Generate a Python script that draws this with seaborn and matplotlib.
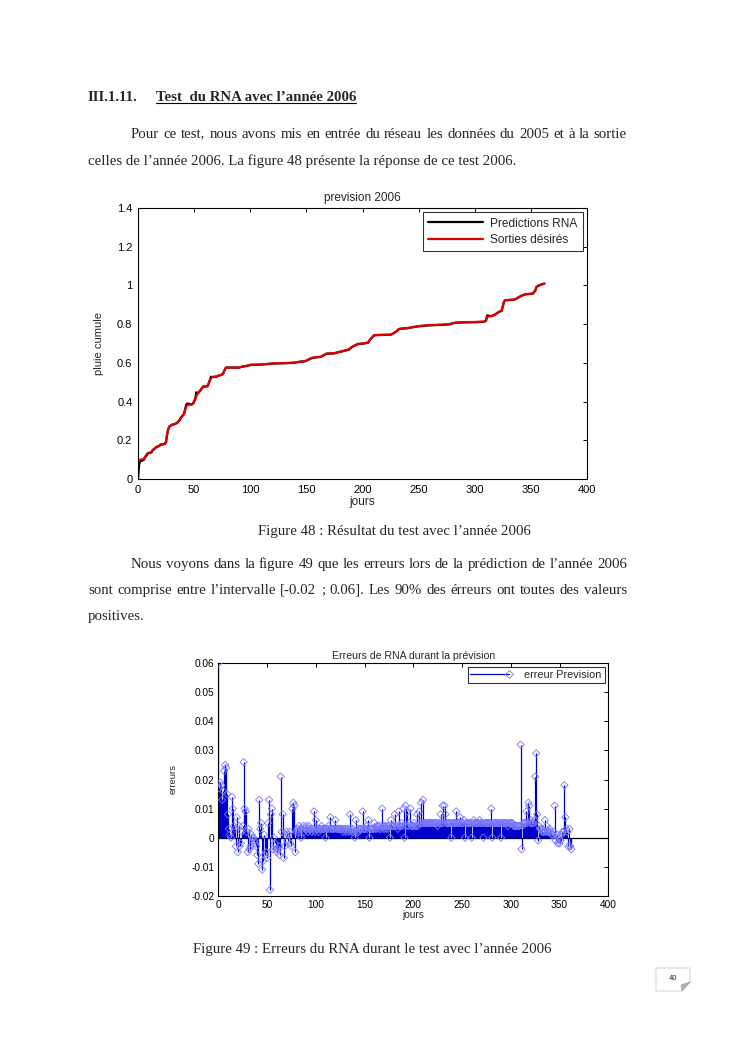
import numpy as np
import pandas as pd
import matplotlib
matplotlib.use("Agg")
import matplotlib.pyplot as plt
import seaborn as sns
from matplotlib.lines import Line2D
from matplotlib.patches import Polygon
from matplotlib.legend_handler import HandlerLine2D
from matplotlib.ticker import FuncFormatter

# ============================================
# Data - figure 48 (pluie cumulee, prevision 2006)
# ============================================

jours_courbe = [0, 1, 2, 5, 6, 8, 9, 12, 13, 15, 16, 19, 20, 24, 25, 26, 27, 28, 30, 33,
                35, 37, 38, 40, 41, 43, 44, 48, 49, 51, 52, 53, 55, 57, 58, 62, 63, 65, 66, 70,
                72, 75, 76, 78, 79, 90, 92, 97, 100, 110, 120, 135, 140, 145, 148, 150, 152, 155, 157, 160,
                163, 166, 168, 175, 178, 180, 183, 188, 190, 193, 196, 200, 205, 206, 209, 210, 212, 225, 228, 230,
                232, 233, 240, 245, 250, 260, 270, 278, 280, 283, 290, 300, 308, 310, 311, 315, 318, 320, 322, 324,
                326, 327, 335, 337, 340, 342, 345, 350, 352, 354, 355, 357, 359, 362]

sorties_desirees = [0.080, 0.090, 0.100, 0.102, 0.112, 0.130, 0.135, 0.138, 0.150, 0.158, 0.165, 0.172, 0.178, 0.182, 0.195, 0.235, 0.260, 0.272, 0.280, 0.285,
                    0.292, 0.305, 0.315, 0.328, 0.335, 0.375, 0.382, 0.385, 0.390, 0.415, 0.430, 0.440, 0.455, 0.470, 0.478, 0.480, 0.495, 0.520, 0.525, 0.530,
                    0.535, 0.540, 0.548, 0.572, 0.575, 0.576, 0.580, 0.585, 0.590, 0.592, 0.597, 0.600, 0.602, 0.607, 0.608, 0.612, 0.618, 0.626, 0.628, 0.630,
                    0.632, 0.642, 0.648, 0.650, 0.655, 0.658, 0.662, 0.670, 0.680, 0.690, 0.698, 0.700, 0.705, 0.715, 0.735, 0.742, 0.744, 0.746, 0.755, 0.762,
                    0.773, 0.776, 0.780, 0.785, 0.790, 0.795, 0.797, 0.800, 0.805, 0.808, 0.810, 0.811, 0.813, 0.818, 0.838, 0.842, 0.850, 0.858, 0.865, 0.870,
                    0.915, 0.924, 0.927, 0.932, 0.942, 0.948, 0.955, 0.957, 0.960, 0.975, 0.993, 1.000, 1.005, 1.010]

predictions_rna = [0.000, 0.075, 0.092, 0.098, 0.108, 0.125, 0.133, 0.137, 0.148, 0.157, 0.163, 0.171, 0.177, 0.181, 0.192, 0.232, 0.258, 0.271, 0.279, 0.284,
                   0.290, 0.303, 0.314, 0.330, 0.338, 0.385, 0.390, 0.386, 0.389, 0.412, 0.448, 0.442, 0.453, 0.469, 0.477, 0.479, 0.494, 0.528, 0.527, 0.529,
                   0.534, 0.539, 0.547, 0.574, 0.576, 0.575, 0.579, 0.584, 0.589, 0.591, 0.596, 0.599, 0.601, 0.606, 0.607, 0.611, 0.617, 0.625, 0.627, 0.629,
                   0.631, 0.641, 0.647, 0.649, 0.654, 0.657, 0.661, 0.669, 0.679, 0.689, 0.697, 0.699, 0.704, 0.714, 0.734, 0.741, 0.743, 0.745, 0.754, 0.761,
                   0.772, 0.775, 0.779, 0.784, 0.789, 0.794, 0.796, 0.799, 0.804, 0.807, 0.809, 0.810, 0.812, 0.817, 0.845, 0.841, 0.849, 0.857, 0.864, 0.869,
                   0.914, 0.923, 0.926, 0.931, 0.941, 0.947, 0.954, 0.956, 0.959, 0.974, 0.992, 0.999, 1.004, 1.009]

# ============================================
# Data - figure 49 (erreurs journalieres, jours 0..362)
# ============================================

erreurs = [
    0.060, 0.017, 0.019, 0.018, 0.013, 0.016, 0.023, 0.025, 0.024, 0.015,
    0.008, 0.003, 0.001, 0.000, 0.014, 0.010, 0.004, 0.003, -0.003, 0.007,
    -0.005, 0.004, -0.003, -0.002, 0.002, 0.004, 0.026, 0.010, 0.009, 0.002,
    -0.005, 0.003, -0.004, -0.003, 0.001, 0.000, 0.000, -0.001, -0.002, -0.003,
    -0.006, -0.009, 0.013, 0.003, 0.005, -0.011, -0.008, 0.001, -0.006, -0.005,
    -0.007, 0.005, 0.013, -0.018, 0.008, 0.010, -0.004, 0.000, -0.002, -0.004,
    -0.005, -0.004, -0.003, -0.006, 0.021, 0.002, 0.008, -0.007, -0.003, 0.001,
    0.002, -0.001, 0.001, 0.002, -0.002, -0.003, 0.010, 0.012, 0.011, -0.005,
    0.002, 0.003, 0.002, 0.004, 0.003, 0.000, 0.003, 0.004, 0.002, 0.003,
    0.004, 0.003, 0.002, 0.004, 0.003, 0.003, 0.002, 0.003, 0.009, 0.002,
    0.006, 0.003, 0.003, 0.002, 0.003, 0.003, 0.004, 0.003, 0.003, 0.003,
    0.000, 0.003, 0.003, 0.004, 0.003, 0.007, 0.003, 0.003, 0.003, 0.003,
    0.006, 0.003, 0.003, 0.003, 0.003, 0.003, 0.003, 0.003, 0.002, 0.003,
    0.003, 0.002, 0.003, 0.003, 0.002, 0.008, 0.003, 0.002, 0.003, 0.002,
    0.000, 0.006, 0.002, 0.003, 0.002, 0.003, 0.003, 0.003, 0.009, 0.003,
    0.003, 0.003, 0.004, 0.003, 0.006, 0.000, 0.003, 0.003, 0.003, 0.003,
    0.005, 0.003, 0.003, 0.004, 0.004, 0.003, 0.004, 0.003, 0.010, 0.004,
    0.003, 0.004, 0.003, 0.004, 0.003, 0.004, 0.000, 0.006, 0.004, 0.004,
    0.004, 0.008, 0.004, 0.004, 0.003, 0.009, 0.004, 0.004, 0.005, 0.004,
    0.010, 0.000, 0.011, 0.004, 0.009, 0.004, 0.005, 0.010, 0.004, 0.004,
    0.004, 0.005, 0.004, 0.004, 0.008, 0.004, 0.009, 0.005, 0.012, 0.005,
    0.013, 0.005, 0.005, 0.005, 0.005, 0.005, 0.005, 0.005, 0.005, 0.005,
    0.005, 0.005, 0.005, 0.005, 0.005, 0.004, 0.005, 0.005, 0.008, 0.005,
    0.011, 0.005, 0.011, 0.008, 0.005, 0.005, 0.005, 0.005, 0.005, 0.000,
    0.005, 0.005, 0.005, 0.005, 0.009, 0.005, 0.005, 0.005, 0.007, 0.005,
    0.005, 0.005, 0.006, 0.000, 0.005, 0.005, 0.005, 0.005, 0.005, 0.005,
    0.000, 0.005, 0.006, 0.005, 0.005, 0.005, 0.005, 0.005, 0.006, 0.005,
    0.005, 0.005, 0.000, 0.005, 0.005, 0.005, 0.005, 0.005, 0.005, 0.005,
    0.010, 0.000, 0.005, 0.005, 0.005, 0.005, 0.005, 0.005, 0.005, 0.005,
    0.000, 0.005, 0.005, 0.005, 0.005, 0.005, 0.005, 0.004, 0.005, 0.005,
    0.005, 0.005, 0.005, 0.004, 0.004, 0.004, 0.004, 0.004, 0.004, 0.004,
    0.032, -0.004, 0.004, 0.005, 0.005, 0.005, 0.009, 0.005, 0.012, 0.011,
    0.005, 0.006, 0.005, 0.005, 0.006, 0.021, 0.029, 0.008, -0.001, 0.004,
    0.003, 0.003, 0.002, 0.002, 0.002, 0.006, 0.002, 0.004, 0.002, 0.002,
    0.003, 0.002, 0.001, 0.001, 0.002, 0.011, -0.001, 0.001, -0.002, 0.000,
    -0.002, -0.001, 0.001, 0.002, 0.002, 0.018, 0.007, 0.003, 0.002, -0.003,
    0.003, -0.003, -0.004,
]
jours_erreurs = list(range(len(erreurs)))

x_ticks = [0, 50, 100, 150, 200, 250, 300, 350, 400]
y_ticks_48 = [0, 0.2, 0.4, 0.6, 0.8, 1.0, 1.2, 1.4]
y_ticks_49 = [-0.02, -0.01, 0, 0.01, 0.02, 0.03, 0.04, 0.05, 0.06]

# ============================================
# Page setup
# ============================================

W, H = 744, 1053
sns.set_style("white")
plt.rcParams["font.family"] = ["Liberation Sans", "DejaVu Sans"]

fig = plt.figure(figsize=(W / 100, H / 100), dpi=100)
fig.patch.set_facecolor("white")


def fx(px):
    return px / W


def fy(py):
    return 1 - py / H


SERIF = ["Liberation Serif", "DejaVu Serif"]
BODY = 10.75
RIGHT = 627


def body(x, y, s, **kw):
    # y is the visual centre of the line, text sits on its baseline
    kw.setdefault("fontsize", BODY)
    return fig.text(fx(x), fy(y + 4), s, family=SERIF, va="baseline", **kw)


def justified(x0, y, s):
    # spread the words so the line ends on the right margin
    words = s.split(" ")
    arts = [body(x0, y, w) for w in words]
    r = fig.canvas.get_renderer()
    widths = [a.get_window_extent(r).width for a in arts]
    gap = (RIGHT - x0 - sum(widths)) / (len(words) - 1)
    x = x0
    for a, w in zip(arts, widths):
        a.set_x(fx(x))
        x += w + gap


# heading + paragraph
body(88, 97, "III.1.11.", weight="bold")
head = body(156, 97, "Test  du RNA avec l\u2019ann\u00e9e 2006", weight="bold")
justified(131, 134, "Pour ce test, nous avons mis en entr\u00e9e du r\u00e9seau les donn\u00e9es du 2005 et \u00e0 la sortie")
body(88, 161, "celles de l\u2019ann\u00e9e 2006. La figure 48 pr\u00e9sente la r\u00e9ponse de ce test 2006.")

body(394, 531, "Figure 48 : R\u00e9sultat du test avec l\u2019ann\u00e9e 2006", ha="center")

justified(131, 564, "Nous voyons dans la figure 49 que les erreurs lors de la pr\u00e9diction de l\u2019ann\u00e9e 2006")
justified(88, 590, "sont comprise entre l\u2019intervalle [-0.02 ; 0.06]. Les 90% des \u00e9rreurs ont toutes des valeurs")
body(88, 616, "positives.")

body(372, 949, "Figure 49 : Erreurs du RNA durant le test avec l\u2019ann\u00e9e 2006", ha="center")

fmt = FuncFormatter(lambda v, p: "%g" % round(v, 4))


def matlab_axes(ax, size, ticklen, pad):
    ax.tick_params(direction="in", top=True, right=True, length=ticklen, width=0.7,
                   labelsize=size, pad=pad, colors="black")
    for sp in ax.spines.values():
        sp.set_visible(True)
        sp.set_color("black")
        sp.set_linewidth(0.8)
    ax.xaxis.set_major_formatter(fmt)
    ax.yaxis.set_major_formatter(fmt)


# ============================================
# Figure 48
# ============================================

ax1 = fig.add_axes([fx(138), fy(479), fx(587) - fx(138), fy(208) - fy(479)])
sns.lineplot(x=jours_courbe, y=predictions_rna, ax=ax1, color="black", lw=1.6,
             label="Predictions RNA")
sns.lineplot(x=jours_courbe, y=sorties_desirees, ax=ax1, color="#e00000", lw=1.6,
             label="Sorties d\u00e9sir\u00e9s")
ax1.set_xlim(0, 400)
ax1.set_ylim(0, 1.4)
ax1.set_xticks(x_ticks)
ax1.set_yticks(y_ticks_48)
matlab_axes(ax1, 8, 3, 4)
ax1.set_title("prevision 2006", fontsize=8.5, pad=5)
ax1.set_xlabel("jours", fontsize=8.5, labelpad=1)
ax1.set_ylabel("pluie cumule", fontsize=8, labelpad=9)
leg1 = ax1.legend(loc="upper right", fontsize=8.6, frameon=True, fancybox=False,
                  edgecolor="black", handlelength=4.6, borderaxespad=0.35,
                  labelspacing=0.35, handletextpad=0.6, borderpad=0.45)
leg1.get_frame().set_linewidth(0.8)

# ============================================
# Figure 49
# ============================================

STEM = "#0000cc"
MARK = "#7777ff"

ax2 = fig.add_axes([fx(218.3), fy(895.7), fx(608.3) - fx(218.3), fy(663.3) - fy(895.7)])
ax2.axhline(0, color="black", lw=0.9, zorder=1)
ax2.vlines(jours_erreurs, 0, erreurs, color=STEM, lw=0.9, zorder=2)
sns.scatterplot(x=jours_erreurs, y=erreurs, ax=ax2, marker="D", s=14,
                color=MARK, facecolor="none", edgecolor=MARK, linewidth=0.6,
                zorder=3, legend=False)
ax2.set_xlim(0, 400)
ax2.set_ylim(-0.02, 0.06)
ax2.set_xticks(x_ticks)
ax2.set_yticks(y_ticks_49)
matlab_axes(ax2, 7.3, 3, 3)
ax2.set_title("Erreurs de RNA durant la pr\u00e9vision", fontsize=7.6, pad=3)
ax2.set_xlabel("jours", fontsize=7.3, labelpad=0)
ax2.set_ylabel("erreurs", fontsize=6.8, labelpad=10)


class EndMarker(HandlerLine2D):
    def create_artists(self, *args, **kwargs):
        arts = super().create_artists(*args, **kwargs)
        for a in arts:
            a.set_markevery([2])
        return arts


h2 = Line2D([], [], color=STEM, lw=0.9, marker="D", ms=3.8, mfc="none", mec=MARK, mew=0.6)
leg2 = ax2.legend([h2], ["erreur Prevision"], loc="upper right", fontsize=7.8,
                  frameon=True, fancybox=False, edgecolor="black", numpoints=1,
                  handlelength=3.6, handletextpad=1.4, borderaxespad=0.35, borderpad=0.25,
                  handler_map={h2: EndMarker()})
leg2.get_frame().set_linewidth(0.8)

# ============================================
# Page number
# ============================================

box = Polygon([(fx(656), fy(968)), (fx(690), fy(968)), (fx(690), fy(982)),
               (fx(682), fy(991)), (fx(656), fy(991))], closed=True,
              transform=fig.transFigure, facecolor="white", edgecolor="#d8d8d8", lw=0.8)
fig.add_artist(box)
curl = Polygon([(fx(690), fy(982)), (fx(681), fy(985)), (fx(682), fy(991))], closed=True,
               transform=fig.transFigure, facecolor="#b0b0b0", edgecolor="#a0a0a0", lw=0.5)
fig.add_artist(curl)
fig.text(fx(673), fy(979), "40", fontsize=5.5, ha="center", va="center")

# underline for the heading
fig.canvas.draw()
bb = head.get_window_extent().transformed(fig.transFigure.inverted())
fig.add_artist(Line2D([bb.x0, bb.x1], [bb.y0 + 0.0005, bb.y0 + 0.0005],
                      transform=fig.transFigure, color="black", lw=0.8))

fig.savefig("out.png", dpi=100)
plt.close()
